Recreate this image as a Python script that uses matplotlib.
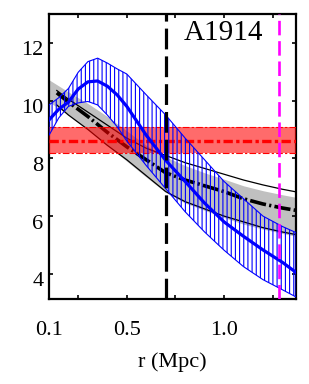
import matplotlib.pyplot as plt
from matplotlib.transforms import ScaledTranslation

# radius grid (Mpc) shared by the model curves
R = [0.1, 0.15, 0.2, 0.25, 0.3, 0.35, 0.4, 0.45, 0.5, 0.6, 0.7, 0.8, 0.9, 1.0, 1.1, 1.2, 1.3, 1.37]

# blue profile with its hatched error range
BLUE_MID = [9.33, 9.7, 9.95, 10.4, 10.65, 10.68, 10.5, 10.2, 9.8, 8.8, 7.93, 7.2, 6.45, 5.8, 5.3, 4.83, 4.4, 4.05]
BLUE_HI = [9.85, 10.1, 10.42, 10.98, 11.35, 11.47, 11.3, 11.1, 10.92, 10.2, 9.5, 8.7, 7.95, 7.2, 6.6, 6.0, 5.64, 5.43]
BLUE_LO = [8.8, 9.4, 9.8, 9.92, 9.97, 9.85, 9.5, 9.1, 8.6, 7.75, 6.95, 6.15, 5.45, 4.82, 4.25, 3.8, 3.45, 3.2]

# gray band
R_GRAY = [0.1, 0.2, 0.3, 0.4, 0.5, 0.6, 0.7, 0.8, 0.9, 1.0, 1.1, 1.2, 1.3, 1.37]
GRAY_HI = [10.72, 10.3, 9.9, 9.45, 8.95, 8.45, 8.05, 7.75, 7.5, 7.28, 7.05, 6.88, 6.74, 6.65]
GRAY_LO = [9.96, 9.5, 9.0, 8.45, 7.9, 7.35, 6.82, 6.45, 6.2, 5.95, 5.72, 5.55, 5.4, 5.3]

# black dash-dot profile with thin bounding lines
R_BLACK = [0.14, 0.2, 0.3, 0.4, 0.5, 0.6, 0.7, 0.8, 0.9, 1.0, 1.1, 1.2, 1.3, 1.37]
BLACK_MID = [10.27, 9.95, 9.45, 8.9, 8.4, 7.95, 7.5, 7.25, 7.05, 6.85, 6.6, 6.42, 6.28, 6.2]
BLACK_HI = [10.35, 10.05, 9.6, 9.15, 8.7, 8.35, 8.1, 7.85, 7.65, 7.45, 7.25, 7.08, 6.93, 6.84]
BLACK_LO = [9.85, 9.5, 9.0, 8.45, 7.95, 7.4, 6.85, 6.5, 6.25, 6.0, 5.8, 5.6, 5.45, 5.36]

# constant red level and its range
RED_MID = 8.61
RED_LO = 8.19
RED_HI = 9.09

R_BLACK_VLINE = 0.7
R_MAGENTA_VLINE = 1.28

XTICKS = [0.1, 0.25, 0.5, 0.75, 1.0, 1.25]
XTICK_LABELS = ["0.1", "", "0.5", "", "1.0", ""]
YTICKS = [4, 6, 8, 10, 12]
LABEL = "A1914"

plt.rcParams["font.family"] = ["Liberation Serif", "DejaVu Serif"]
plt.rcParams["hatch.linewidth"] = 0.8
plt.rcParams["hatch.color"] = "blue"


def plot():
    fig = plt.figure(figsize=(3.09, 3.84), dpi=100)
    ax = fig.add_axes([0.1586, 0.2214, 0.7994, 0.7422])

    ax.fill_between(R_GRAY, GRAY_LO, GRAY_HI, color="#c0c0c0", lw=0, zorder=1)
    ax.plot(R_BLACK, BLACK_HI, color="black", lw=0.9, zorder=2)
    ax.plot(R_BLACK, BLACK_LO, color="black", lw=0.9, zorder=2)
    ax.plot(R_BLACK, BLACK_MID, color="black", lw=2.6, ls=(0, (4.5, 0.9, 0.6, 0.9)), zorder=3)

    ax.axhspan(RED_LO, RED_HI, color="red", alpha=0.58, lw=0, zorder=4)
    ax.axhline(RED_LO, color="red", lw=0.8, ls=(0, (6, 2, 2, 2)), zorder=4)
    ax.axhline(RED_HI, color="red", lw=0.8, ls=(0, (6, 2, 2, 2)), zorder=4)
    ax.axhline(RED_MID, color="red", lw=2.4, ls=(0, (2.8, 1.0, 1.0, 1.0)), zorder=5)

    ax.fill_between(R, BLUE_LO, BLUE_HI, facecolor="none", edgecolor="blue",
                    hatch="||||", lw=0.8, zorder=6)
    ax.plot(R, BLUE_MID, color="blue", lw=2.3, zorder=7)

    ax.axvline(R_BLACK_VLINE, color="black", lw=2.3, ls=(0, (6.5, 2.2)), zorder=8)
    ax.axvline(R_MAGENTA_VLINE, color="magenta", lw=1.9, ls=(0, (5.5, 2.2)), zorder=8)

    ax.text(0.995, 12.35, LABEL, fontsize=21, ha="center", va="center", zorder=9)

    ax.set_xlim(0.1, 1.37)
    ax.set_ylim(3.13, 13.0)
    ax.set_xticks(XTICKS)
    ax.set_xticklabels(XTICK_LABELS)
    ax.set_yticks(YTICKS)
    ax.set_yticklabels([str(v) for v in YTICKS])
    ax.tick_params(direction="in", length=3, width=1.2, top=True, right=True,
                   labelsize=16)
    ax.tick_params(axis="x", pad=16)
    ax.tick_params(axis="y", pad=4)
    for lbl in ax.get_yticklabels():
        lbl.set_transform(lbl.get_transform() + ScaledTranslation(0, -4 / 72, fig.dpi_scale_trans))
    for sp in ax.spines.values():
        sp.set_linewidth(1.6)
    ax.set_xlabel("r (Mpc)", fontsize=16, labelpad=9)

    fig.savefig("out.png", dpi=100)


def main():
    plot()


if __name__ == "__main__":
    main()
